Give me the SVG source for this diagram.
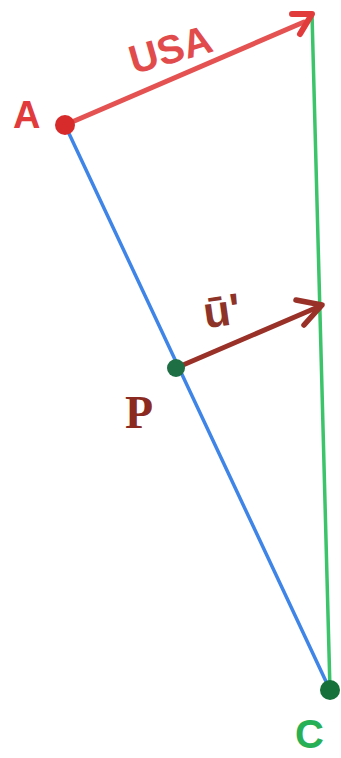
<svg xmlns="http://www.w3.org/2000/svg" width="341" height="758" viewBox="0 0 341 758">
<style>
.lbl{font-family:"Liberation Sans",Arial,sans-serif;font-weight:bold}
</style>
<rect width="341" height="758" fill="#ffffff"/>
<g id="connectors" fill="none" stroke-linecap="round">
<line x1="312" y1="14" x2="330" y2="690" stroke="#3bc46a" stroke-width="3.5"/>
<line x1="65" y1="125" x2="330" y2="690" stroke="#3f85e8" stroke-width="3.5"/>
<line x1="65" y1="125" x2="304" y2="22" stroke="#e55252" stroke-width="5"/>
<path d="M292,14 L312,14 L300,34" stroke="#e23b3b" stroke-width="6" stroke-linejoin="round"/>
<line x1="176" y1="368" x2="318" y2="307" stroke="#9a3128" stroke-width="5"/>
<path d="M296,300 L322,305 L304,325" stroke="#9a3128" stroke-width="5.5" stroke-linejoin="round"/>
</g>
<g id="node-A">
<circle cx="65" cy="125" r="10" fill="#d72a2a"/>
<text class="lbl" x="13" y="128" font-size="38" fill="#e23b3b">A</text>
</g>
<g id="label-USA">
<text class="lbl" x="128" y="66" font-size="40" fill="#e24b4b" transform="rotate(-16 160 50)">USA</text>
</g>
<g id="node-P">
<circle cx="176" cy="368" r="9" fill="#1f6f45"/>
<text class="lbl" x="125" y="428" font-size="46" fill="#8a2a20" style="font-family:'Liberation Serif',serif">P</text>
</g>
<g id="label-u">
<text class="lbl" x="203" y="326" font-size="44" fill="#8e3328" transform="rotate(-8 220 310)">ū'</text>
</g>
<g id="node-C">
<circle cx="330" cy="690" r="10" fill="#16703a"/>
<text class="lbl" x="295" y="748" font-size="40" fill="#27b055">C</text>
</g>
</svg>
